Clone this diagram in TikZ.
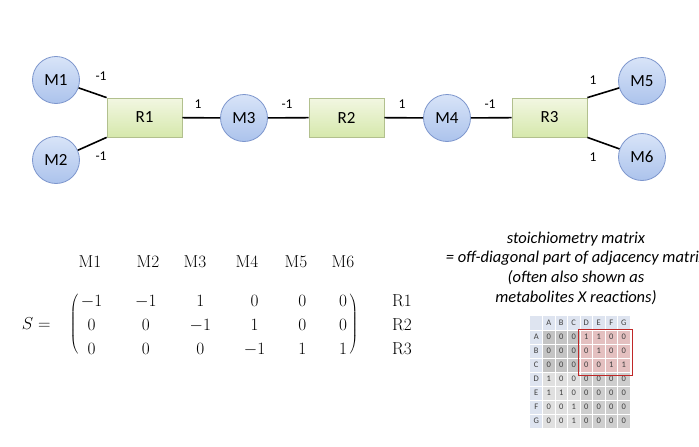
\documentclass[tikz,border=0pt]{standalone}
\usepackage{fontspec}
\newfontfamily\calfont{Carlito}
\usepackage{tikz}
\usetikzlibrary{positioning,matrix}
\usepackage{xcolor}
\definecolor{mettop}{RGB}{216,228,248}
\definecolor{metbot}{RGB}{172,195,236}
\definecolor{metedge}{RGB}{125,150,205}
\definecolor{reactop}{RGB}{242,247,226}
\definecolor{reacbot}{RGB}{214,232,172}
\definecolor{reacedge}{RGB}{178,192,142}
\definecolor{hdrcol}{RGB}{222,228,240}
\definecolor{celldark}{RGB}{196,196,196}
\definecolor{cellpink}{RGB}{228,192,192}
\definecolor{celllight}{RGB}{224,224,224}
\definecolor{cellmid}{RGB}{206,206,206}
\definecolor{boxred}{RGB}{192,40,40}

\begin{document}
\begin{tikzpicture}[x=1pt,y=-1pt,
    metab/.style={circle, draw=metedge, line width=0.8pt, top color=mettop, bottom color=metbot,
        minimum size=47pt, inner sep=0pt, font=\calfont\fontsize{17}{20}\selectfont},
    reac/.style={rectangle, draw=reacedge, line width=0.8pt, top color=reactop, bottom color=reacbot,
        minimum width=75pt, minimum height=39pt, inner sep=0pt, font=\calfont\fontsize{17}{20}\selectfont},
    link/.style={line width=1.6pt},
    coef/.style={font=\calfont\fontsize{13.5}{15}\selectfont},
    hdr/.style={font=\fontsize{17.28}{20}\selectfont},
    cell/.style={inner sep=0pt, text=black!75, font=\calfont\fontsize{8.5}{9}\selectfont}]
\fill[white] (0,0) rectangle (699,447);
\useasboundingbox (0,0) rectangle (699,447);

% Network
\node[metab] (m1) at (56,80) {M1};
\node[metab] (m2) at (56,160) {M2};
\node[reac] (r1) at (144.5,117.5) {R1};
\node[metab] (m3) at (244,118) {M3};
\node[reac] (r2) at (346.5,117.5) {R2};
\node[metab] (m4) at (447,118) {M4};
\node[reac] (r3) at (549.5,117.5) {R3};
\node[metab] (m5) at (642,81) {M5};
\node[metab] (m6) at (642,157) {M6};

\draw[link] (m1) -- (r1.north west);
\draw[link] (m2) -- (r1.south west);
\draw[link] (r1) -- (m3);
\draw[link] (m3) -- (r2);
\draw[link] (r2) -- (m4);
\draw[link] (m4) -- (r3);
\draw[link] (r3.north east) -- (m5);
\draw[link] (r3.south east) -- (m6);

% Coefficients
\node[coef] (c1) at (101,76) {-1};
\node[coef] (c2) at (101,156) {-1};
\node[coef] (c3) at (198,104) {1};
\node[coef] (c4) at (287,104) {-1};
\node[coef] (c5) at (402,104) {1};
\node[coef] (c6) at (490,104) {-1};
\node[coef] (c7) at (593,80) {1};
\node[coef] (c8) at (593,157) {1};

% Stoichiometry matrix
\matrix (S) [matrix of math nodes, inner sep=1pt, left delimiter=(, right delimiter=), column sep=33pt, row sep=12pt,
    nodes={inner sep=0pt, text height=12pt, text depth=0pt, font=\fontsize{17.28}{21}\selectfont}]
    at (214,324) {
-1 & -1 & 1 & 0 & 0 & 0\\
0 & 0 & -1 & 1 & 0 & 0\\
0 & 0 & 0 & -1 & 1 & 1\\
};
\node[anchor=east, font=\fontsize{17.28}{21}\selectfont] (seq) at (54,324) {$S =$};
\foreach \x [count=\c] in {90,148,195,247,296,343}
    \node[hdr] (h\c) at (\x,262) {M\c};
\foreach \r in {1,2,3}
    \node[hdr, anchor=base] (rl\r) at (402,0 |- S-\r-6.base) {R\r};

% Note
\node[font=\calfont\itshape\fontsize{16.5}{19.7}\selectfont, align=center] (note) at (576,268)
    {stoichiometry matrix\\= off-diagonal part of adjacency matrix\\(often also shown as\\metabolites X reactions)};

% Adjacency table
\fill[hdrcol] (530,316) rectangle (630,330);
\fill[hdrcol] (530,330) rectangle (542.5,428);
\fill[celldark] (542.5,330) rectangle (580,372);
\fill[cellpink] (580,330) rectangle (630,372);
\fill[celllight] (542.5,372) rectangle (580,428);
\fill[cellmid] (580,372) rectangle (630,428);
\foreach \k in {1,...,7} {
    \draw[white, line width=0.8pt] ({530+12.5*\k},316) -- ({530+12.5*\k},428);
    \draw[white, line width=0.8pt] (530,{316+14*\k}) -- (630,{316+14*\k});
}
\foreach \l [count=\k] in {A,...,G} {
    \node[cell] (th\l) at ({536.25+12.5*\k},323) {\l};
    \node[cell] (tr\l) at (536.25,{323+14*\k}) {\l};
}
\foreach \l/\vals [count=\r] in {A/{0,0,0,1,1,0,0}, B/{0,0,0,0,1,0,0}, C/{0,0,0,0,0,1,1},
        D/{1,0,0,0,0,0,0}, E/{1,1,0,0,0,0,0}, F/{0,0,1,0,0,0,0}, G/{0,0,1,0,0,0,0}}
    \foreach \v [count=\c] in \vals
        \node[cell] (t\l\c) at ({536.25+12.5*\c},{323+14*\r}) {\v};
\draw[boxred, line width=1.6pt] (578.5,329.5) rectangle (632.5,375.5);
\end{tikzpicture}
\end{document}
